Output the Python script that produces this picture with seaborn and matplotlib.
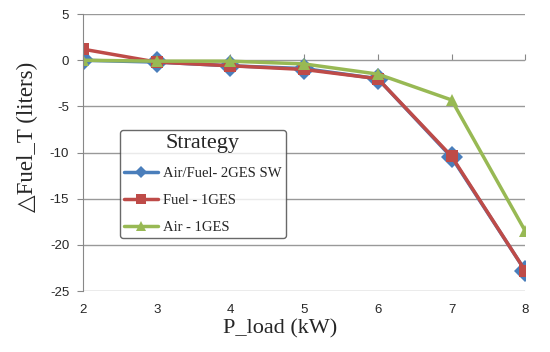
import pandas as pd
import seaborn as sns
import matplotlib.pyplot as plt

# Values
p_load = [2, 3, 4, 5, 6, 7, 8]
air_fuel_2ges = [0.0, -0.2, -0.6, -0.9, -2.0, -10.5, -22.8]
fuel_1ges = [1.2, -0.2, -0.6, -1.0, -2.0, -10.4, -22.8]
air_1ges = [0.0, -0.1, -0.1, -0.4, -1.5, -4.3, -18.5]
names = ['Air/Fuel- 2GES SW', 'Fuel - 1GES', 'Air - 1GES']
y_ticks = [5, 0, -5, -10, -15, -20, -25]

df = pd.concat([
    pd.DataFrame({'P_load': p_load, 'dFuel': vals, 'Strategy': name})
    for name, vals in zip(names, [air_fuel_2ges, fuel_1ges, air_1ges])
])

sns.set_style('white')
plt.rcParams['font.family'] = ['Liberation Sans', 'DejaVu Sans']
plt.rcParams['axes.unicode_minus'] = False

colors = {names[0]: '#4a7ebb', names[1]: '#be4b48', names[2]: '#98b954'}
markers = {names[0]: 'D', names[1]: 's', names[2]: '^'}
sizes = {names[0]: 11, names[1]: 8, names[2]: 8}

fig = plt.figure(figsize=(5.5, 3.52), dpi=100)
ax = fig.add_axes([0.151, 0.173, 0.804, 0.787])

for name in names:
    sns.lineplot(data=df[df['Strategy'] == name], x='P_load', y='dFuel',
                 color=colors[name], marker=markers[name], markersize=sizes[name],
                 markeredgewidth=0, linewidth=2.5, label=name, ax=ax)

ax.set_xlim(2, 8)
ax.set_ylim(-25, 5)
ax.set_xticks(p_load)
ax.set_yticks(y_ticks)
ax.tick_params(axis='x', length=0, labelsize=9.5, pad=9)
ax.tick_params(axis='y', length=4, direction='out', color='#888888', labelsize=9.5, left=True, pad=6)
ax.yaxis.grid(True, color='#999999', linewidth=1)
for side in ['top', 'right', 'bottom']:
    ax.spines[side].set_visible(False)
ax.spines['left'].set_color('#888888')

# category axis crossing at zero with tick marks
sec = ax.secondary_xaxis((0 - (-25)) / 30)
sec.set_xticks(p_load)
sec.tick_params(axis='x', length=4, direction='out', color='#888888', labelbottom=False, labeltop=False)
sec.spines['bottom'].set_color('#888888')
sec.spines['top'].set_visible(False)

serif = ['Liberation Serif', 'DejaVu Serif']
ax.set_xlabel('P_load (kW)', fontsize=16, family=serif, labelpad=0)
ax.xaxis.set_label_coords(0.446, -0.1)
ax.set_ylabel('\u25b3Fuel_T (liters)', fontsize=16.5, family=serif)
ax.yaxis.set_label_coords(-0.102, 0.556)

leg = ax.legend(title='Strategy', loc='upper left', bbox_to_anchor=(0.068, 0.607),
                prop={'family': serif, 'size': 10.5}, title_fontproperties={'family': serif, 'size': 16},
                frameon=True, fancybox=True, edgecolor='#444444', handlelength=2.3,
                labelspacing=0.95, borderpad=0.25, handletextpad=0.4)
leg.get_frame().set_linewidth(1)
for h in leg.legend_handles:
    h.set_markersize(6.5)

fig.savefig('out.png', dpi=100)
